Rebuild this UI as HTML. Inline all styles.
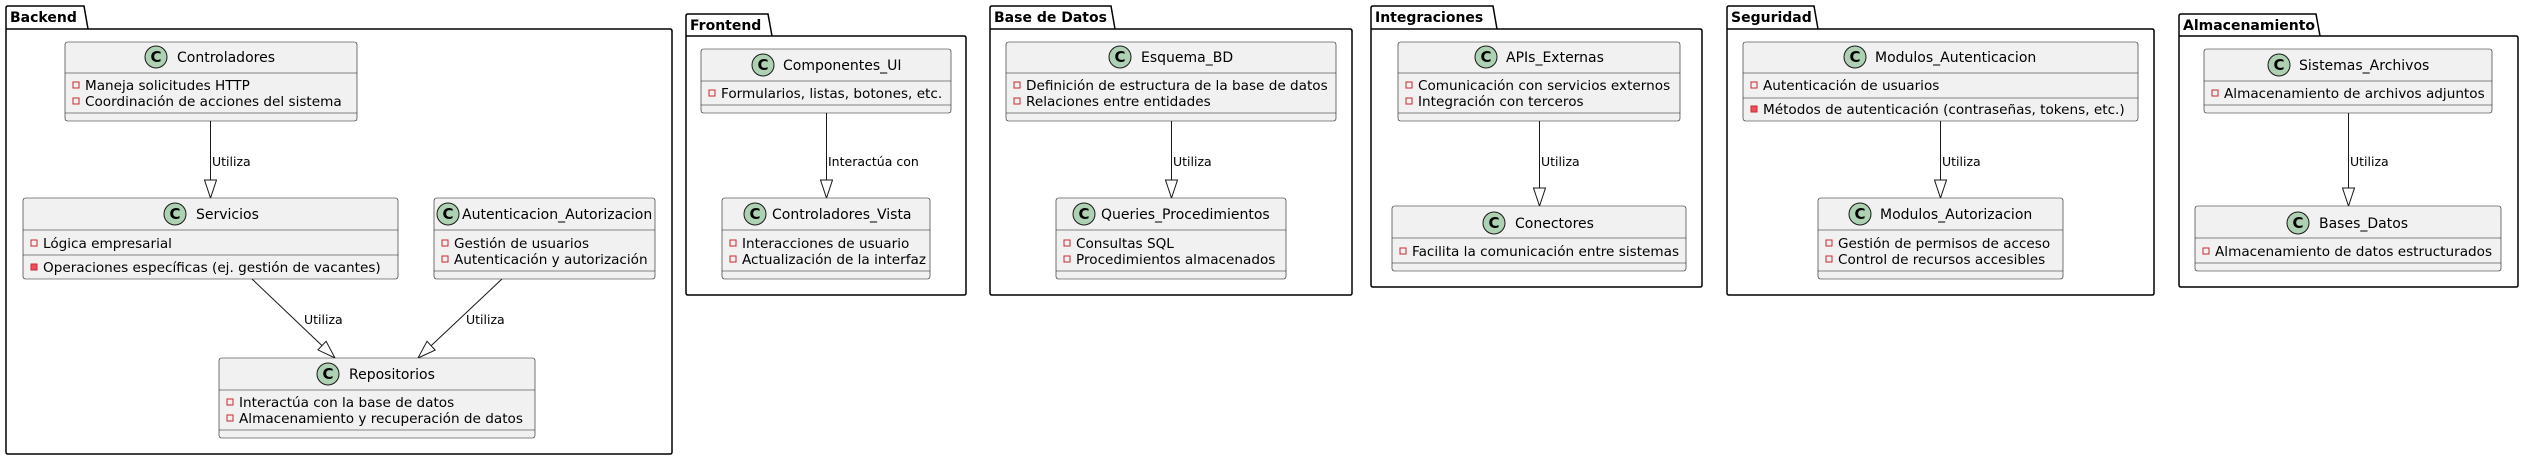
<!DOCTYPE html>
<html><head><meta charset="utf-8"><style>
html,body{margin:0;padding:0;background:#fff;width:2524px;height:460px;overflow:hidden}
text{font-family:"DejaVu Sans","Liberation Sans",sans-serif;fill:#000}
.n{font-size:14px}.a{font-size:13.6px}.l{font-size:12.5px}.p{font-size:14px;font-weight:bold}
.box{fill:#F1F1F1;stroke:#181818;stroke-width:0.6}
.sep{stroke:#181818;stroke-width:0.6}
.ci{fill:#ADD1B2;stroke:#181818;stroke-width:1}
.c{font-size:15px;font-weight:bold;fill:#000}
.ih{fill:none;stroke:#C82930;stroke-width:1}
.if{fill:#F24D5C;stroke:#C82930;stroke-width:1}
.pk{fill:none;stroke:#000;stroke-width:1.5}
.e{stroke:#181818;stroke-width:1;fill:none}
.ar{fill:#fff;stroke:#181818;stroke-width:1}
</style></head><body>
<svg width="2524" height="460" viewBox="0 0 2524 460" xmlns="http://www.w3.org/2000/svg">
<!-- Packages -->
<path class="pk" d="M6,29 L6,8 Q6,6 8,6 L84,6 L88,29 L670,29 Q672,29 672,31 L672,452 Q672,454 670,454 L8,454 Q6,454 6,452 Z M6,29 L88,29"/>
<text class="p" x="10" y="22">Backend</text>
<path class="pk" d="M686,36 L686,16 Q686,14 688,14 L768,14 L772,36 L964,36 Q966,36 966,38 L966,293 Q966,295 964,295 L688,295 Q686,295 686,293 Z M686,36 L772,36"/>
<text class="p" x="690" y="30">Frontend</text>
<path class="pk" d="M990,29 L990,8 Q990,6 992,6 L1111,6 L1115,29 L1350,29 Q1352,29 1352,31 L1352,293 Q1352,295 1350,295 L992,295 Q990,295 990,293 Z M990,29 L1115,29"/>
<text class="p" x="994" y="22">Base de Datos</text>
<path class="pk" d="M1371,29 L1371,8 Q1371,6 1373,6 L1493,6 L1497,29 L1700,29 Q1702,29 1702,31 L1702,285 Q1702,287 1700,287 L1373,287 Q1371,287 1371,285 Z M1371,29 L1497,29"/>
<text class="p" x="1375" y="22">Integraciones</text>
<path class="pk" d="M1727,29 L1727,8 Q1727,6 1729,6 L1814,6 L1818,29 L2152,29 Q2154,29 2154,31 L2154,293 Q2154,295 2152,295 L1729,295 Q1727,295 1727,293 Z M1727,29 L1818,29"/>
<text class="p" x="1731" y="22">Seguridad</text>
<path class="pk" d="M2179,36 L2179,16 Q2179,14 2181,14 L2316,14 L2320,36 L2516,36 Q2518,36 2518,38 L2518,285 Q2518,287 2516,287 L2181,287 Q2179,287 2179,285 Z M2179,36 L2320,36"/>
<text class="p" x="2183" y="30">Almacenamiento</text>

<!-- Edges -->
<line class="e" x1="210.5" y1="121" x2="210.5" y2="180"/><polygon class="ar" points="204.5,180 216.5,180 210.5,198"/>
<text class="l" x="212" y="166">Utiliza</text>
<line class="e" x1="252" y1="279" x2="322" y2="345.6"/><polygon class="ar" points="317.9,349.9 326.1,341.3 335,358"/>
<text class="l" x="304" y="324">Utiliza</text>
<line class="e" x1="502" y1="279" x2="431.1" y2="345.7"/><polygon class="ar" points="427,341.3 435.2,350.1 418,358"/>
<text class="l" x="466" y="324">Utiliza</text>
<line class="e" x1="826.5" y1="113" x2="826.5" y2="180"/><polygon class="ar" points="820.5,180 832.5,180 826.5,198"/>
<text class="l" x="828" y="166">Interactúa con</text>
<line class="e" x1="1171.5" y1="121" x2="1171.5" y2="180"/><polygon class="ar" points="1165.5,180 1177.5,180 1171.5,198"/>
<text class="l" x="1173" y="166">Utiliza</text>
<line class="e" x1="1539.5" y1="121" x2="1539.5" y2="188"/><polygon class="ar" points="1533.5,188 1545.5,188 1539.5,206"/>
<text class="l" x="1541" y="166">Utiliza</text>
<line class="e" x1="1940.5" y1="121" x2="1940.5" y2="180"/><polygon class="ar" points="1934.5,180 1946.5,180 1940.5,198"/>
<text class="l" x="1942" y="166">Utiliza</text>
<line class="e" x1="2348.5" y1="113" x2="2348.5" y2="188"/><polygon class="ar" points="2342.5,188 2354.5,188 2348.5,206"/>
<text class="l" x="2350" y="166">Utiliza</text>

<!-- Controladores -->
<rect class="box" x="65" y="42" width="292" height="79" rx="2.5"/>
<line class="sep" x1="65" y1="73" x2="357" y2="73"/><line class="sep" x1="65" y1="113" x2="357" y2="113"/>
<circle class="ci" cx="156" cy="57" r="11"/><text class="c" x="156" y="62" text-anchor="middle">C</text>
<text class="n" x="177" y="62">Controladores</text>
<rect class="ih" x="73" y="82" width="6" height="6"/><text class="a" x="85" y="90">Maneja solicitudes HTTP</text>
<rect class="ih" x="73" y="98" width="6" height="6"/><text class="a" x="85" y="106">Coordinación de acciones del sistema</text>

<!-- Servicios -->
<rect class="box" x="23" y="198" width="375" height="81" rx="2.5"/>
<line class="sep" x1="23" y1="230" x2="398" y2="230"/><line class="sep" x1="23" y1="255" x2="398" y2="255"/>
<circle class="ci" cx="175" cy="214" r="11"/><text class="c" x="175" y="219" text-anchor="middle">C</text>
<text class="n" x="196" y="219">Servicios</text>
<rect class="ih" x="31" y="240" width="6" height="6"/><text class="a" x="43" y="248">Lógica empresarial</text>
<rect class="if" x="31" y="264" width="6" height="6"/><text class="a" x="43" y="272">Operaciones específicas (ej. gestión de vacantes)</text>

<!-- Autenticacion_Autorizacion -->
<rect class="box" x="434" y="198" width="221" height="81" rx="2.5"/>
<line class="sep" x1="434" y1="230" x2="655" y2="230"/><line class="sep" x1="434" y1="271" x2="655" y2="271"/>
<circle class="ci" cx="448" cy="214" r="11"/><text class="c" x="448" y="219" text-anchor="middle">C</text>
<text class="n" x="462" y="219">Autenticacion_Autorizacion</text>
<rect class="ih" x="442" y="240" width="6" height="6"/><text class="a" x="454" y="248">Gestión de usuarios</text>
<rect class="ih" x="442" y="256" width="6" height="6"/><text class="a" x="454" y="264">Autenticación y autorización</text>

<!-- Repositorios -->
<rect class="box" x="219" y="358" width="316" height="80" rx="2.5"/>
<line class="sep" x1="219" y1="390" x2="535" y2="390"/><line class="sep" x1="219" y1="430" x2="535" y2="430"/>
<circle class="ci" cx="328" cy="374" r="11"/><text class="c" x="328" y="379" text-anchor="middle">C</text>
<text class="n" x="349" y="379">Repositorios</text>
<rect class="ih" x="227" y="399" width="6" height="6"/><text class="a" x="239" y="407">Interactúa con la base de datos</text>
<rect class="ih" x="227" y="415" width="6" height="6"/><text class="a" x="239" y="423">Almacenamiento y recuperación de datos</text>

<!-- Componentes_UI -->
<rect class="box" x="701" y="49" width="250" height="64" rx="2.5"/>
<line class="sep" x1="701" y1="81" x2="951" y2="81"/><line class="sep" x1="701" y1="105" x2="951" y2="105"/>
<circle class="ci" cx="763" cy="65" r="11"/><text class="c" x="763" y="70" text-anchor="middle">C</text>
<text class="n" x="783" y="70">Componentes_UI</text>
<rect class="ih" x="709" y="90" width="6" height="6"/><text class="a" x="721" y="98">Formularios, listas, botones, etc.</text>

<!-- Controladores_Vista -->
<rect class="box" x="722" y="198" width="208" height="81" rx="2.5"/>
<line class="sep" x1="722" y1="230" x2="930" y2="230"/><line class="sep" x1="722" y1="271" x2="930" y2="271"/>
<circle class="ci" cx="755" cy="214" r="11"/><text class="c" x="755" y="219" text-anchor="middle">C</text>
<text class="n" x="772" y="219">Controladores_Vista</text>
<rect class="ih" x="730" y="240" width="6" height="6"/><text class="a" x="742" y="248">Interacciones de usuario</text>
<rect class="ih" x="730" y="256" width="6" height="6"/><text class="a" x="742" y="264">Actualización de la interfaz</text>

<!-- Esquema_BD -->
<rect class="box" x="1006" y="42" width="330" height="79" rx="2.5"/>
<line class="sep" x1="1006" y1="73" x2="1336" y2="73"/><line class="sep" x1="1006" y1="113" x2="1336" y2="113"/>
<circle class="ci" cx="1120" cy="57" r="11"/><text class="c" x="1120" y="62" text-anchor="middle">C</text>
<text class="n" x="1141" y="62">Esquema_BD</text>
<rect class="ih" x="1014" y="82" width="6" height="6"/><text class="a" x="1026" y="90">Definición de estructura de la base de datos</text>
<rect class="ih" x="1014" y="98" width="6" height="6"/><text class="a" x="1026" y="106">Relaciones entre entidades</text>

<!-- Queries_Procedimientos -->
<rect class="box" x="1056" y="198" width="230" height="81" rx="2.5"/>
<line class="sep" x1="1056" y1="230" x2="1286" y2="230"/><line class="sep" x1="1056" y1="271" x2="1286" y2="271"/>
<circle class="ci" cx="1084" cy="214" r="11"/><text class="c" x="1084" y="219" text-anchor="middle">C</text>
<text class="n" x="1101" y="219">Queries_Procedimientos</text>
<rect class="ih" x="1064" y="240" width="6" height="6"/><text class="a" x="1076" y="248">Consultas SQL</text>
<rect class="ih" x="1064" y="256" width="6" height="6"/><text class="a" x="1076" y="264">Procedimientos almacenados</text>

<!-- APIs_Externas -->
<rect class="box" x="1398" y="42" width="282" height="79" rx="2.5"/>
<line class="sep" x1="1398" y1="73" x2="1680" y2="73"/><line class="sep" x1="1398" y1="113" x2="1680" y2="113"/>
<circle class="ci" cx="1486" cy="57" r="11"/><text class="c" x="1486" y="62" text-anchor="middle">C</text>
<text class="n" x="1506" y="62">APIs_Externas</text>
<rect class="ih" x="1406" y="82" width="6" height="6"/><text class="a" x="1418" y="90">Comunicación con servicios externos</text>
<rect class="ih" x="1406" y="98" width="6" height="6"/><text class="a" x="1418" y="106">Integración con terceros</text>

<!-- Conectores -->
<rect class="box" x="1392" y="206" width="294" height="65" rx="2.5"/>
<line class="sep" x1="1392" y1="238" x2="1686" y2="238"/><line class="sep" x1="1392" y1="263" x2="1686" y2="263"/>
<circle class="ci" cx="1494" cy="223" r="11"/><text class="c" x="1494" y="228" text-anchor="middle">C</text>
<text class="n" x="1515" y="228">Conectores</text>
<rect class="ih" x="1400" y="248" width="6" height="6"/><text class="a" x="1412" y="256">Facilita la comunicación entre sistemas</text>

<!-- Modulos_Autenticacion -->
<rect class="box" x="1743" y="42" width="395" height="79" rx="2.5"/>
<line class="sep" x1="1743" y1="73" x2="2138" y2="73"/><line class="sep" x1="1743" y1="98" x2="2138" y2="98"/>
<circle class="ci" cx="1855" cy="57" r="11"/><text class="c" x="1855" y="62" text-anchor="middle">C</text>
<text class="n" x="1875" y="62">Modulos_Autenticacion</text>
<rect class="ih" x="1751" y="82" width="6" height="6"/><text class="a" x="1763" y="90">Autenticación de usuarios</text>
<rect class="if" x="1751" y="106" width="6" height="6"/><text class="a" x="1763" y="114">Métodos de autenticación (contraseñas, tokens, etc.)</text>

<!-- Modulos_Autorizacion -->
<rect class="box" x="1818" y="198" width="245" height="81" rx="2.5"/>
<line class="sep" x1="1818" y1="230" x2="2063" y2="230"/><line class="sep" x1="1818" y1="271" x2="2063" y2="271"/>
<circle class="ci" cx="1860" cy="214" r="11"/><text class="c" x="1860" y="219" text-anchor="middle">C</text>
<text class="n" x="1880" y="219">Modulos_Autorizacion</text>
<rect class="ih" x="1826" y="240" width="6" height="6"/><text class="a" x="1838" y="248">Gestión de permisos de acceso</text>
<rect class="ih" x="1826" y="256" width="6" height="6"/><text class="a" x="1838" y="264">Control de recursos accesibles</text>

<!-- Sistemas_Archivos -->
<rect class="box" x="2204" y="49" width="288" height="64" rx="2.5"/>
<line class="sep" x1="2204" y1="81" x2="2492" y2="81"/><line class="sep" x1="2204" y1="105" x2="2492" y2="105"/>
<circle class="ci" cx="2279" cy="65" r="11"/><text class="c" x="2279" y="70" text-anchor="middle">C</text>
<text class="n" x="2299" y="70">Sistemas_Archivos</text>
<rect class="ih" x="2212" y="90" width="6" height="6"/><text class="a" x="2224" y="98">Almacenamiento de archivos adjuntos</text>

<!-- Bases_Datos -->
<rect class="box" x="2195" y="206" width="306" height="65" rx="2.5"/>
<line class="sep" x1="2195" y1="238" x2="2501" y2="238"/><line class="sep" x1="2195" y1="263" x2="2501" y2="263"/>
<circle class="ci" cx="2298" cy="223" r="11"/><text class="c" x="2298" y="228" text-anchor="middle">C</text>
<text class="n" x="2319" y="228">Bases_Datos</text>
<rect class="ih" x="2203" y="248" width="6" height="6"/><text class="a" x="2215" y="256">Almacenamiento de datos estructurados</text>
</svg>
</body></html>
